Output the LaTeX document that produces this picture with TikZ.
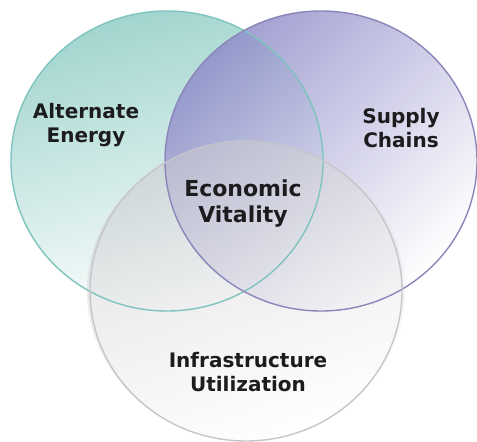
\documentclass[tikz,border=0pt]{standalone}
\usepackage{fontspec}
\setmainfont{DejaVu Sans}
\definecolor{tealfill}{RGB}{162,213,207}
\definecolor{tealmid}{RGB}{234,243,242}
\definecolor{tealline}{RGB}{126,196,190}
\definecolor{violetfill}{RGB}{140,136,200}
\definecolor{violetmid}{RGB}{240,239,246}
\definecolor{violetline}{RGB}{138,134,186}
\definecolor{greyfill}{RGB}{202,202,205}
\definecolor{greymid}{RGB}{240,240,241}
\definecolor{greyline}{RGB}{198,198,202}
\definecolor{nametext}{RGB}{28,28,30}
\tikzset{% looks of the three sets and of their names
   setfill/.style args={#1,#2}{top color=#1, middle color=#2,
      bottom color=white, shading angle=15},
   setring/.style={draw=#1, line width=1.4pt},
   setname/.style={align=center, inner sep=0pt, text=nametext,
      font=\bfseries\fontsize{20}{24}\selectfont},
   bigname/.style={setname, font=\bfseries\fontsize{22}{26}\selectfont}
}

\begin{document}
\begin{tikzpicture}[x=1pt, y=-1pt]
   \fill[white] (0,0) rectangle (477,442);
   \useasboundingbox (0,0) rectangle (477,442);
   \coordinate (energy) at (167,161);
   \coordinate (supply) at (321,161);
   \coordinate (infra) at (246,291);
   % the discs first, each one see-through over the last
   \shade[setfill={tealfill,tealmid}] (energy) ellipse [x radius=156, y radius=150];
   \shade[setfill={violetfill,violetmid}, shading angle=45, fill opacity=0.8]
      (supply) ellipse [x radius=156, y radius=150];
   \shade[setfill={greyfill,greymid}, shading angle=20, fill opacity=0.55]
      (infra) ellipse [x radius=159, y radius=149];
   % then the rims on top
   \foreach \c/\col in {energy/tealline, supply/violetline, infra/greyline} {
      \draw[setring=\col] (\c) ellipse [x radius=156, y radius=150];
   }
   \node[setname] (alt) at (86,125) {Alternate\\Energy};
   \node[setname] (sup) at (401,128) {Supply\\Chains};
   \node[bigname] (eco) at (243,204) {Economic\\Vitality};
   \node[setname] (inf) at (248,372) {Infrastructure\\Utilization};
\end{tikzpicture}
\end{document}
